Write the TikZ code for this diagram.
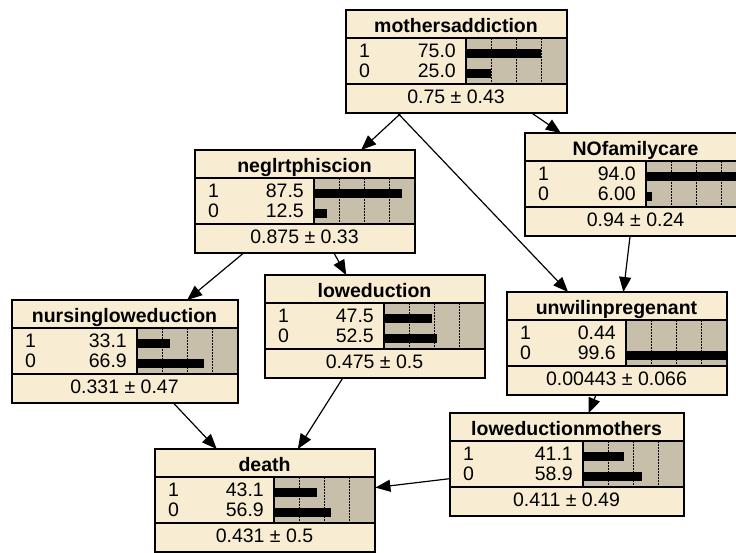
\documentclass[tikz,border=0pt]{standalone}
\usepackage{fontspec}
\setmainfont{Liberation Sans}
\usetikzlibrary{arrows.meta, calc}

\definecolor{nodebeige}{RGB}{248, 237, 210}
\definecolor{bargray}{RGB}{200, 191, 170}

\tikzset{
  bnbox/.style={draw=black, line width=1.4pt, fill=nodebeige, inner sep=0pt, anchor=north west},
  celltext/.style={inner sep=0pt, font=\fontsize{19.5}{23}\selectfont},
  titletext/.style={inner sep=0pt, font=\fontsize{19.5}{23}\selectfont\bfseries},
  bnlink/.style={-{Triangle[length=15pt, width=12pt]}, line width=1.2pt},
}

% belief node: name, left, top, label width, title, p(1), p(0), mean
\newcommand{\bnnode}[8]{%
  \node[bnbox, minimum width=#4pt+100pt, minimum height=102pt] (#1) at (#2,#3) {};
  \fill[bargray] (#2+#4,#3+28) rectangle (#2+#4+100,#3+74);
  \foreach \q in {25,50,75}
    \draw[line width=1pt, dash pattern=on 1.5pt off 1.5pt] (#2+#4+\q,#3+28) -- (#2+#4+\q,#3+74);
  \fill (#2+#4,#3+39) rectangle (#2+#4+#6,#3+48);
  \fill (#2+#4,#3+59) rectangle (#2+#4+#7,#3+68);
  \draw[line width=1.2pt] (#2+#4,#3+28) -- (#2+#4,#3+74);
  \draw[line width=1.2pt] (#2,#3+28) -- (#2+#4+100,#3+28) (#2,#3+74) -- (#2+#4+100,#3+74);
  \draw[line width=1.4pt] (#1.north west) rectangle (#1.south east);
  \node[titletext, anchor=base] (#1-title) at (#2+#4/2+50,#3+22) {#5};
  \node[celltext, anchor=base west] (#1-s1) at (#2+13,#3+47) {1};
  \node[celltext, anchor=base west] (#1-s0) at (#2+13,#3+67) {0};
  \node[celltext, anchor=base east] (#1-v1) at (#2+#4-10,#3+47) {#6};
  \node[celltext, anchor=base east] (#1-v0) at (#2+#4-10,#3+67) {#7};
  \node[celltext, anchor=base] (#1-mean) at (#2+#4/2+50,#3+93) {#8};
}

\begin{document}
\begin{tikzpicture}[x=1pt, y=-1pt]
  \useasboundingbox (0,0) rectangle (736,552);

  % Nodes
  \bnnode{mothersaddiction}{346}{10}{120}{mothersaddiction}{75.0}{25.0}{0.75 ± 0.43}
  \bnnode{neglrtphiscion}{195}{150}{119}{neglrtphiscion}{87.5}{12.5}{0.875 ± 0.33}
  \bnnode{NOfamilycare}{525}{133}{121}{NOfamilycare}{94.0}{6.00}{0.94 ± 0.24}
  \bnnode{nursingloweduction}{12}{300}{125}{nursingloweduction}{33.1}{66.9}{0.331 ± 0.47}
  \bnnode{loweduction}{265}{275}{119}{loweduction}{47.5}{52.5}{0.475 ± 0.5}
  \bnnode{unwilinpregenant}{507}{292}{119}{unwilinpregenant}{0.44}{99.6}{0.00443 ± 0.066}
  \bnnode{loweductionmothers}{450}{413}{133}{loweductionmothers}{41.1}{58.9}{0.411 ± 0.49}
  \bnnode{death}{155}{449}{119}{death}{43.1}{56.9}{0.431 ± 0.5}

  % Links
  \coordinate (madd-out) at ($(mothersaddiction.south west)+(52,0)$);
  \draw[bnlink] (mothersaddiction) -- (neglrtphiscion);
  \draw[bnlink] (mothersaddiction) -- (NOfamilycare);
  \draw[bnlink] (madd-out) -- (unwilinpregenant);
  \draw[bnlink] (NOfamilycare) -- (unwilinpregenant);
  \draw[bnlink] (neglrtphiscion) -- (nursingloweduction);
  \draw[bnlink] (neglrtphiscion) -- (loweduction);
  \draw[bnlink] (unwilinpregenant) -- (loweductionmothers);
  \draw[bnlink] (nursingloweduction) -- (death);
  \draw[bnlink] (loweduction) -- (death);
  \draw[bnlink] (loweductionmothers) -- (death);
\end{tikzpicture}
\end{document}
